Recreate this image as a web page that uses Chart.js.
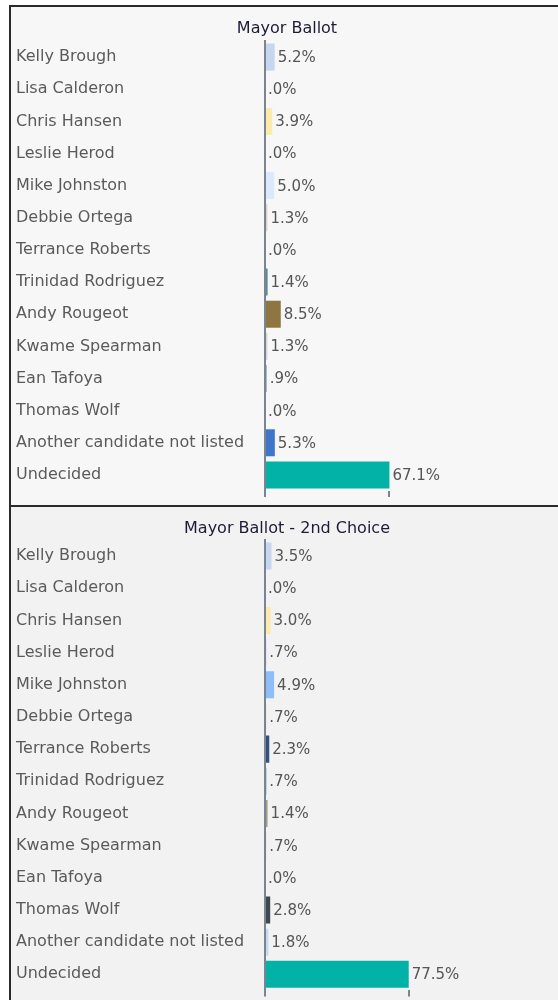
<!DOCTYPE html>
<html>
<head>
<meta charset="utf-8">
<script src="https://cdn.jsdelivr.net/npm/chart.js@4.4.0/dist/chart.umd.min.js"></script>
<style>
  html, body { margin: 0; padding: 0; background: #ffffff; }
  body { width: 558px; height: 1000px; position: relative; overflow: hidden; }
  #frame { position: absolute; left: 9px; top: 5px; width: 549px; height: 995px; border-left: 2px solid #2a2a2a; border-top: 2px solid #2a2a2a; }
  #p1 { position: absolute; left: 11px; top: 7px; width: 547px; height: 498px; background: #f7f7f7; }
  #sep { position: absolute; left: 11px; top: 505px; width: 547px; height: 2px; background: #2a2a2a; }
  #p2 { position: absolute; left: 11px; top: 507px; width: 547px; height: 493px; background: #f2f2f2; }
  canvas { display: block; }
</style>
</head>
<body>
<div id="frame"></div>
<div id="p1"><canvas id="c1" width="547" height="498"></canvas></div>
<div id="sep"></div>
<div id="p2"><canvas id="c2" width="547" height="493"></canvas></div>
<script>
const candidates = ["Kelly Brough","Lisa Calderon","Chris Hansen","Leslie Herod","Mike Johnston","Debbie Ortega","Terrance Roberts","Trinidad Rodriguez","Andy Rougeot","Kwame Spearman","Ean Tafoya","Thomas Wolf","Another candidate not listed","Undecided"];
const firstChoice = [5.2, 0.0, 3.9, 0.0, 5.0, 1.3, 0.0, 1.4, 8.5, 1.3, 0.9, 0.0, 5.3, 67.1];
const secondChoice = [3.5, 0.0, 3.0, 0.7, 4.9, 0.7, 2.3, 0.7, 1.4, 0.7, 0.0, 2.8, 1.8, 77.5];
const titles = ["Mayor Ballot", "Mayor Ballot - 2nd Choice"];

const colorsFirst = ["#c6d6ee","#c6d6ee","#fde9a9","#c0c8d8","#dce9fb","#e6cfc8","#34517a","#5b8899","#8f7541","#d6d6d6","#8a98b0","#3f474f","#3f76c9","#02b2a7"];
const colorsSecond = ["#c6d6ee","#c6d6ee","#fde9a9","#c0c8d8","#8fbdf8","#e6cfc8","#34517a","#5b8899","#a39d86","#d6d6d6","#8a98b0","#3f474f","#c8d8f0","#02b2a7"];

const FONT = "'DejaVu Sans', Verdana, sans-serif";

function fmt(v) {
  let s = v.toFixed(1);
  if (s.startsWith("0")) s = s.slice(1);
  return s + "%";
}

const valueLabels = {
  id: "valueLabels",
  afterDatasetsDraw(chart) {
    const ctx = chart.ctx;
    const meta = chart.getDatasetMeta(0);
    const data = chart.data.datasets[0].data;
    ctx.save();
    ctx.font = "15px " + FONT;
    ctx.fillStyle = "#555555";
    ctx.textAlign = "left";
    ctx.textBaseline = "middle";
    meta.data.forEach((bar, i) => {
      ctx.fillText(fmt(data[i]), bar.x + 3, bar.y + 1);
    });
    ctx.restore();
  }
};

function makeChart(id, values, colors, title, titlePad, bottomH) {
  const maxVal = Math.max(...values);
  return new Chart(document.getElementById(id), {
    type: "bar",
    data: {
      labels: candidates,
      datasets: [{
        data: values,
        backgroundColor: colors,
        borderWidth: 0,
        barPercentage: 0.84,
        categoryPercentage: 1.0
      }]
    },
    options: {
      indexAxis: "y",
      responsive: false,
      animation: false,
      layout: { padding: { left: 5, right: 0, top: 0, bottom: 0 } },
      plugins: {
        legend: { display: false },
        tooltip: { enabled: false },
        title: {
          display: true,
          text: title,
          color: "#1c1c36",
          font: { family: FONT, size: 16, weight: "normal" },
          padding: titlePad
        }
      },
      scales: {
        x: {
          min: 0,
          max: 158,
          afterBuildTicks: (s) => { s.ticks = [{ value: 0 }, { value: maxVal }]; },
          afterFit: (s) => { s.height = bottomH; },
          ticks: { display: false },
          grid: { drawOnChartArea: false, drawTicks: true, tickLength: 6, color: "#7a8594", lineWidth: 2 },
          border: { display: false }
        },
        y: {
          afterFit: (s) => { s.width = 249; },
          ticks: {
            crossAlign: "far",
            padding: 0,
            color: "#5a5a5a",
            font: { family: FONT, size: 16 }
          },
          grid: { display: false, drawTicks: false },
          border: { display: true, color: "#7a8594", width: 2 }
        }
      }
    },
    plugins: [valueLabels]
  });
}

makeChart("c1", firstChoice, colorsFirst, titles[0], { top: 12.4, bottom: 2.4 }, 14);
makeChart("c2", secondChoice, colorsSecond, titles[1], { top: 12.4, bottom: 1.4 }, 9);
</script>
</body>
</html>
